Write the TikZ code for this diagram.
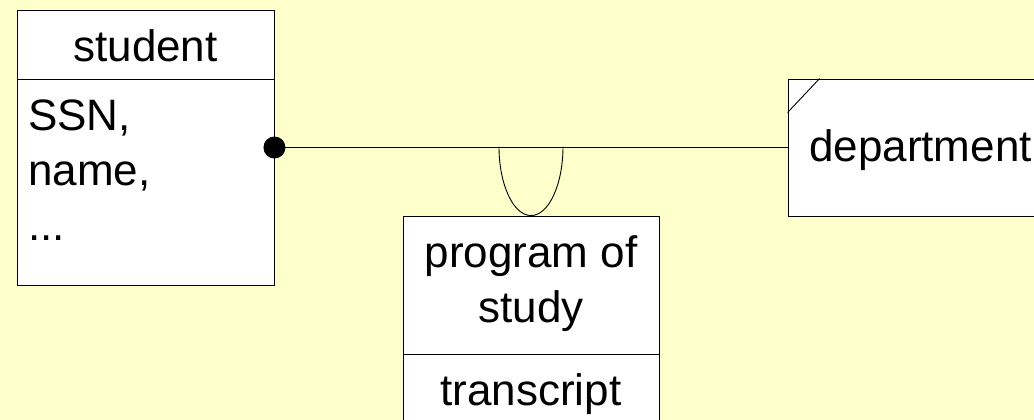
\documentclass[tikz,border=0pt]{standalone}
\usepackage{fontspec}
\setmainfont{Liberation Sans}
\usetikzlibrary{calc}
\definecolor{bgyellow}{RGB}{255,255,204}
\tikzset{
  box/.style={draw=black, fill=white, line width=0.9pt, inner sep=0pt, rectangle},
  lbl/.style={font=\fontsize{44}{55}\selectfont, inner sep=0pt},
  conn/.style={draw=black, line width=0.9pt},
}
\begin{document}
\begin{tikzpicture}[x=1pt,y=-1pt]
\useasboundingbox (0,0) rectangle (1034,420);
\fill[bgyellow] (0,0) rectangle (1034,420);
\clip (0,0) rectangle (1034,420);
% student
\node[box, minimum width=257pt, minimum height=69pt] (stuHead) at (145.5,44.5) {};
\node[lbl, anchor=base] (stuName) at (145.5,62) {student};
\node[box, minimum width=257pt, minimum height=206pt] (stuBody) at (145.5,182) {};
\node[lbl, anchor=north west, align=left] (stuAttr) at (28,99.5) {SSN,\\name,\\...};
% department
\node[box, minimum width=270pt, minimum height=137pt] (dept) at (923,147.5) {};
\node[lbl, anchor=base west] (deptName) at (809,161) {department};
\draw[conn] ([yshift=-34pt]dept.north west) -- ([xshift=32pt]dept.north west);
% program of study
\node[box, minimum width=256pt, minimum height=138pt] (progHead) at (531,285) {};
\node[lbl, align=center] (progName) at (531,284) {program of\\study};
\node[box, minimum width=256pt, minimum height=100pt] (progBody) at (531,404) {};
\node[lbl, anchor=base] (progAttr) at (531,405) {transcript};
% connector
\coordinate (jl) at ($(progHead.north)+(-32,-69)$);
\coordinate (jr) at ($(progHead.north)+(32,-69)$);
\draw[conn] (dept.west -| stuBody.east) -- (dept.west);
\fill (dept.west -| stuBody.east) circle[radius=11pt];
\draw[conn] (jl) .. controls ($(jl)+(0,38)$) and ($(progHead.north)+(-17.7,0)$) .. (progHead.north)
  .. controls ($(progHead.north)+(17.7,0)$) and ($(jr)+(0,38)$) .. (jr);
\end{tikzpicture}
\end{document}
